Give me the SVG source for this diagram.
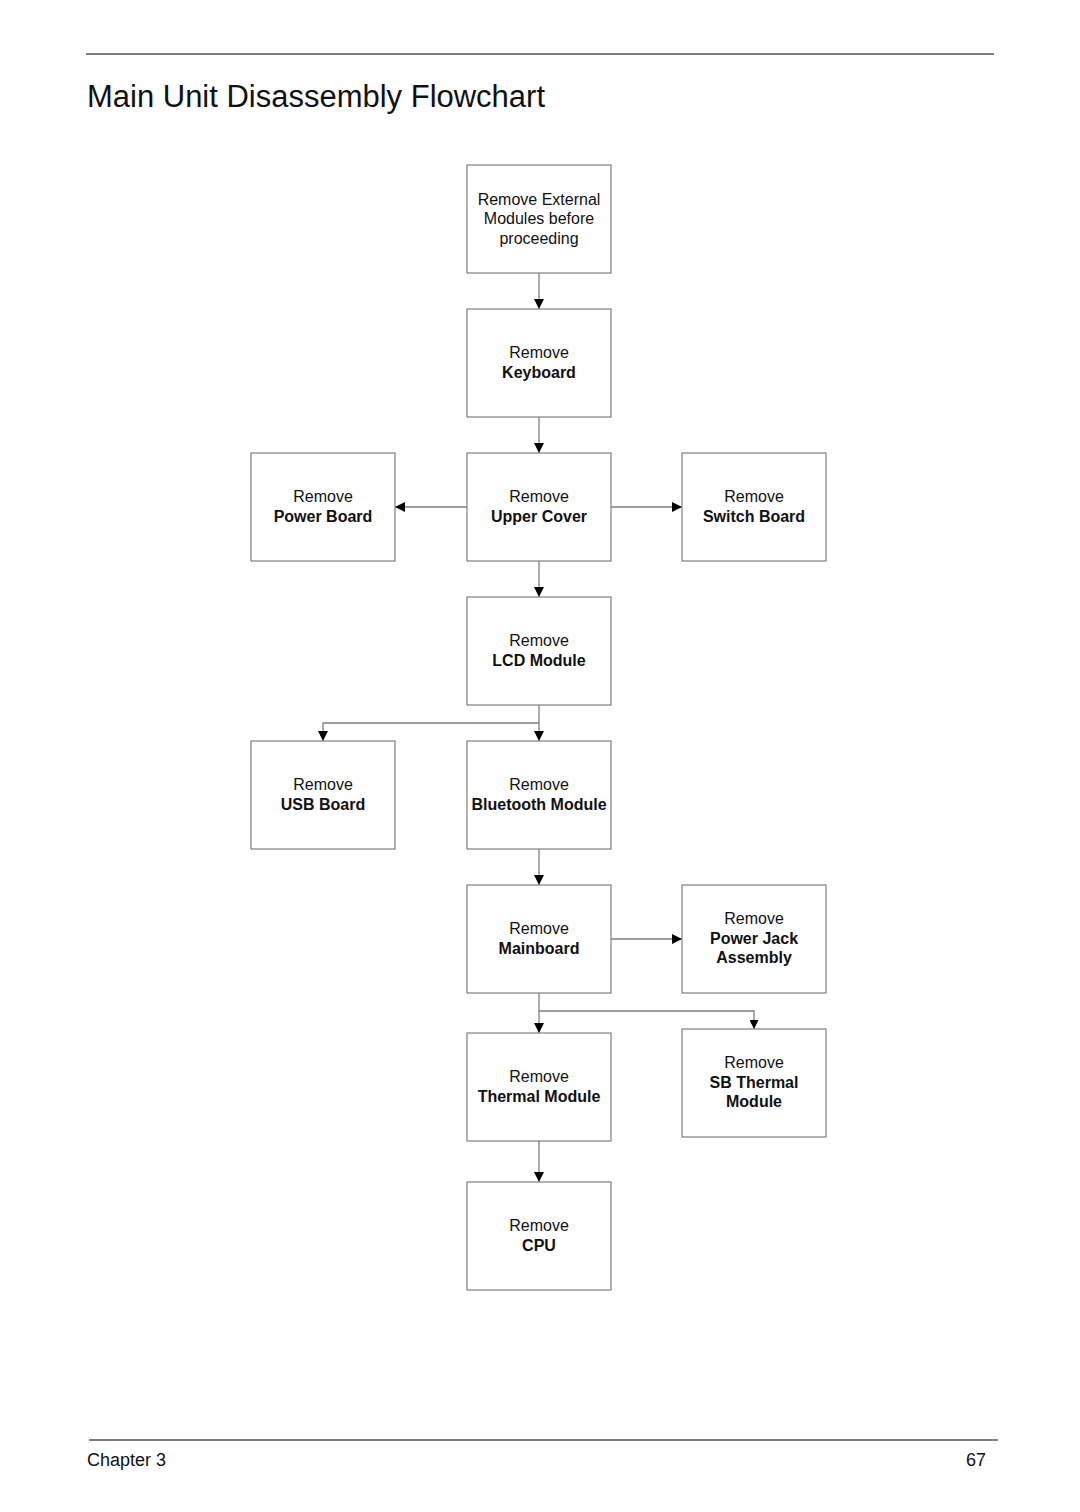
<svg xmlns="http://www.w3.org/2000/svg" width="1080" height="1512" viewBox="0 0 1080 1512">
<style>
.box{fill:#fff;stroke:#7f7f7f;stroke-width:1.2}
.t{font-family:"Liberation Sans",Arial,sans-serif;font-size:16px;fill:#111;text-anchor:middle}
.b{font-weight:bold}
.c{fill:none;stroke:#7f7f7f;stroke-width:1.3}
.rule{stroke:#808080;stroke-width:2}
</style>
<defs>
<marker id="ah" viewBox="0 0 10 10" refX="10" refY="5" markerWidth="10" markerHeight="10" markerUnits="userSpaceOnUse" orient="auto"><path d="M0,0 L10,5 L0,10 Z" fill="#000"/></marker>
<marker id="ahs" viewBox="0 0 10 10" refX="10" refY="5" markerWidth="9" markerHeight="9" markerUnits="userSpaceOnUse" orient="auto"><path d="M0,0 L10,5 L0,10 Z" fill="#000"/></marker>
</defs>
<rect width="1080" height="1512" fill="#fff"/>
<line class="rule" x1="86" y1="54" x2="994" y2="54"/>
<text x="87" y="107" font-family="Liberation Sans,Arial,sans-serif" font-size="31" fill="#111" textLength="458" lengthAdjust="spacingAndGlyphs">Main Unit Disassembly Flowchart</text>

<g id="connectors">
<line class="c" x1="539" y1="273" x2="539" y2="309" marker-end="url(#ah)"/>
<line class="c" x1="539" y1="417" x2="539" y2="453" marker-end="url(#ah)"/>
<line class="c" x1="467" y1="507" x2="395" y2="507" marker-end="url(#ah)"/>
<line class="c" x1="611" y1="507" x2="682" y2="507" marker-end="url(#ah)"/>
<line class="c" x1="539" y1="561" x2="539" y2="597" marker-end="url(#ah)"/>
<line class="c" x1="539" y1="705" x2="539" y2="741" marker-end="url(#ah)"/>
<polyline class="c" points="539,723 323,723 323,741" marker-end="url(#ah)"/>
<line class="c" x1="539" y1="849" x2="539" y2="885" marker-end="url(#ah)"/>
<line class="c" x1="611" y1="939" x2="682" y2="939" marker-end="url(#ah)"/>
<line class="c" x1="539" y1="993" x2="539" y2="1033" marker-end="url(#ah)"/>
<polyline class="c" points="539,1011 754,1011 754,1029" marker-end="url(#ahs)"/>
<line class="c" x1="539" y1="1141" x2="539" y2="1182" marker-end="url(#ah)"/>
</g>

<g id="n-external"><rect class="box" x="467" y="165" width="144" height="108"/>
<text class="t" x="539" y="205">Remove External</text><text class="t" x="539" y="224">Modules before</text><text class="t" x="539" y="244">proceeding</text></g>
<g id="n-keyboard"><rect class="box" x="467" y="309" width="144" height="108"/>
<text class="t" x="539" y="358">Remove</text><text class="t b" x="539" y="378">Keyboard</text></g>
<g id="n-powerboard"><rect class="box" x="251" y="453" width="144" height="108"/>
<text class="t" x="323" y="502">Remove</text><text class="t b" x="323" y="522">Power Board</text></g>
<g id="n-uppercover"><rect class="box" x="467" y="453" width="144" height="108"/>
<text class="t" x="539" y="502">Remove</text><text class="t b" x="539" y="522">Upper Cover</text></g>
<g id="n-switchboard"><rect class="box" x="682" y="453" width="144" height="108"/>
<text class="t" x="754" y="502">Remove</text><text class="t b" x="754" y="522">Switch Board</text></g>
<g id="n-lcd"><rect class="box" x="467" y="597" width="144" height="108"/>
<text class="t" x="539" y="646">Remove</text><text class="t b" x="539" y="666">LCD Module</text></g>
<g id="n-usb"><rect class="box" x="251" y="741" width="144" height="108"/>
<text class="t" x="323" y="790">Remove</text><text class="t b" x="323" y="810">USB Board</text></g>
<g id="n-bluetooth"><rect class="box" x="467" y="741" width="144" height="108"/>
<text class="t" x="539" y="790">Remove</text><text class="t b" x="539" y="810">Bluetooth Module</text></g>
<g id="n-mainboard"><rect class="box" x="467" y="885" width="144" height="108"/>
<text class="t" x="539" y="934">Remove</text><text class="t b" x="539" y="954">Mainboard</text></g>
<g id="n-powerjack"><rect class="box" x="682" y="885" width="144" height="108"/>
<text class="t" x="754" y="924">Remove</text><text class="t b" x="754" y="944">Power Jack</text><text class="t b" x="754" y="963">Assembly</text></g>
<g id="n-thermal"><rect class="box" x="467" y="1033" width="144" height="108"/>
<text class="t" x="539" y="1082">Remove</text><text class="t b" x="539" y="1102">Thermal Module</text></g>
<g id="n-sbthermal"><rect class="box" x="682" y="1029" width="144" height="108"/>
<text class="t" x="754" y="1068">Remove</text><text class="t b" x="754" y="1088">SB Thermal</text><text class="t b" x="754" y="1107">Module</text></g>
<g id="n-cpu"><rect class="box" x="467" y="1182" width="144" height="108"/>
<text class="t" x="539" y="1231">Remove</text><text class="t b" x="539" y="1251">CPU</text></g>

<line class="rule" x1="89" y1="1440" x2="998" y2="1440"/>
<text x="87" y="1466" font-family="Liberation Sans,Arial,sans-serif" font-size="18" fill="#111">Chapter 3</text>
<text x="986" y="1466" font-family="Liberation Sans,Arial,sans-serif" font-size="18" fill="#111" text-anchor="end">67</text>
</svg>
